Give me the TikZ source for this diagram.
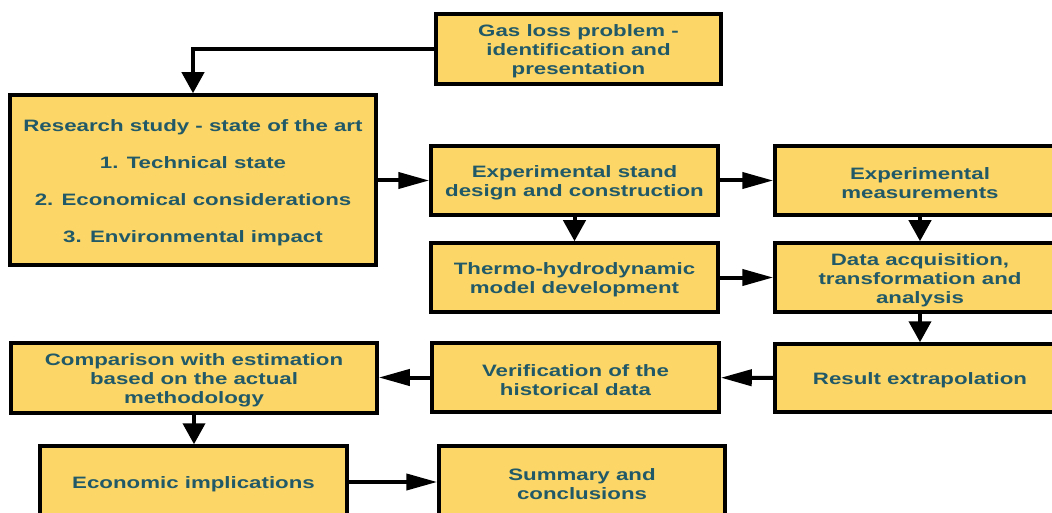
\documentclass[tikz,border=0pt]{standalone}
\usepackage{fontspec}
\setmainfont[FakeStretch=1.35]{Liberation Sans}
\usetikzlibrary{arrows.meta}
\definecolor{boxfill}{RGB}{252,214,102}
\definecolor{boxtext}{RGB}{33,89,104}
\tikzset{
  fbox/.style={draw=black, line width=3.5pt, fill=boxfill, inner sep=0pt},
  ftext/.style={text=boxtext, font=\fontsize{16.5}{19}\selectfont\bfseries,
    align=center, inner sep=0pt, yshift=-2.5pt},
  hconn/.style={line width=4pt, -{Triangle[length=31pt,width=16pt]}},
  vconn/.style={line width=4pt, -{Triangle[length=21pt,width=22pt]}},
}
\begin{document}
\begin{tikzpicture}[x=1pt,y=-1pt]
\useasboundingbox (0,0) rectangle (1052,513);
\clip (0,0) rectangle (1052,513);
\node[fbox, minimum width=285pt, minimum height=70pt] (gas) at (578.5,49) {};
\node[ftext] (gasT) at (gas) {Gas loss problem -\\identification and\\presentation};
\node[fbox, minimum width=366pt, minimum height=170pt] (res) at (193,180) {};
\node[ftext] (resT) at (res)
  {Research study - state of the art\\[18pt]1. Technical state\\[18pt]2. Economical considerations\\[18pt]3. Environmental impact};
\node[fbox, minimum width=287pt, minimum height=69pt] (stand) at (574.5,180.5) {};
\node[ftext] (standT) at (stand) {Experimental stand\\design and construction};
\node[fbox, minimum width=290pt, minimum height=69pt] (meas) at (920,180.5) {};
\node[ftext] (measT) at (meas) {Experimental\\measurements};
\node[fbox, minimum width=287pt, minimum height=69pt] (thermo) at (574.5,277.5) {};
\node[ftext] (thermoT) at (thermo) {Thermo-hydrodynamic\\model development};
\node[fbox, minimum width=290pt, minimum height=69pt] (data) at (920,277.5) {};
\node[ftext] (dataT) at (data) {Data acquisition,\\transformation and\\analysis};
\node[fbox, minimum width=290pt, minimum height=68pt] (result) at (920,378) {};
\node[ftext] (resultT) at (result) {Result extrapolation};
\node[fbox, minimum width=287pt, minimum height=69pt] (verif) at (575.5,377.5) {};
\node[ftext] (verifT) at (verif) {Verification of the\\historical data};
\node[fbox, minimum width=366pt, minimum height=70pt] (comp) at (194,378) {};
\node[ftext] (compT) at (comp) {Comparison with estimation\\based on the actual\\methodology};
\node[fbox, minimum width=307pt, minimum height=72pt] (econ) at (193.5,482) {};
\node[ftext] (econT) at (econ) {Economic implications};
\node[fbox, minimum width=286pt, minimum height=72pt] (summ) at (582,482) {};
\node[ftext] (summT) at (summ) {Summary and\\conclusions};
\draw[vconn] (gas.west) -| (res.north);
\draw[hconn] (res.east |- stand.west) -- (stand.west);
\draw[hconn] (stand) -- (meas);
\draw[vconn] (stand) -- (thermo);
\draw[vconn] (meas) -- (data);
\draw[hconn] (thermo) -- (data);
\draw[vconn] (data) -- (result);
\draw[hconn] (result) -- (verif);
\draw[hconn] (verif.west) -- (comp.east |- verif.west);
\draw[vconn] (comp.south) -- (comp.south |- econ.north);
\draw[hconn] (econ) -- (summ);
\end{tikzpicture}
\end{document}
